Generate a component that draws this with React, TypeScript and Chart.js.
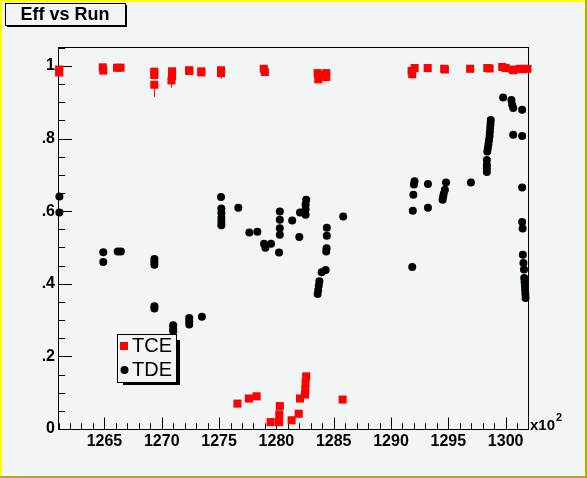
import React, { useEffect, useRef } from "react";
import { Chart, registerables } from "chart.js";

Chart.register(...registerables);

// ---- data (run numbers shown in units of x10^2) ----
const tceRun = [
  1261.05, 1261.05, 1264.86, 1264.9, 1266.1, 1266.4, 1269.35, 1269.35, 1269.35,
  1270.9, 1270.9, 1270.85, 1272.4, 1272.4, 1273.45, 1273.45, 1275.17, 1275.17,
  1278.9, 1279.0, 1283.6, 1283.65, 1283.9, 1284.35, 1284.35, 1291.8, 1291.85,
  1292.06, 1293.2, 1294.64, 1294.7, 1296.9, 1298.4, 1298.6, 1299.7, 1300.0,
  1300.6, 1300.7, 1301.24, 1301.5, 1301.9,
  1276.6, 1277.6, 1278.28, 1279.5, 1280.23, 1280.25, 1280.3, 1281.33, 1281.95,
  1282.06, 1282.5, 1282.52, 1282.55, 1282.6, 1285.78,
];
const tceEff = [
  0.99, 0.982, 0.996, 0.987, 0.995, 0.995, 0.984, 0.975, 0.948,
  0.985, 0.972, 0.96, 0.988, 0.986, 0.985, 0.982, 0.988, 0.98,
  0.992, 0.983, 0.98, 0.963, 0.975, 0.98, 0.969, 0.986, 0.977,
  0.994, 0.994, 0.992, 0.99, 0.992, 0.994, 0.993, 0.997, 0.994,
  0.99, 0.988, 0.992, 0.991, 0.992,
  0.07, 0.084, 0.09, 0.019, 0.019, 0.04, 0.063, 0.024, 0.042,
  0.084, 0.095, 0.109, 0.127, 0.145, 0.081,
];
const tceErrLo = [
  0, 0, 0.008, 0, 0, 0, 0, 0, 0.033,
  0, 0, 0.02, 0, 0, 0, 0, 0, 0.015,
  0, 0, 0, 0, 0, 0, 0, 0, 0,
  0, 0, 0, 0, 0, 0, 0, 0, 0,
  0, 0, 0, 0, 0,
  0, 0, 0, 0, 0, 0, 0, 0, 0,
  0, 0, 0, 0, 0, 0,
];

const tdeRun = [
  1261.07, 1261.07, 1264.9, 1264.9, 1266.16, 1266.43,
  1269.36, 1269.36, 1269.36, 1269.36, 1269.36,
  1271.0, 1271.0, 1271.0, 1272.4, 1272.4, 1272.4, 1273.5,
  1275.17, 1275.2, 1275.2, 1275.2, 1275.2, 1275.2, 1276.68,
  1277.64, 1278.34, 1278.92, 1279.04, 1279.53, 1280.23,
  1280.3, 1280.3, 1280.3, 1280.3, 1281.38, 1282.0, 1282.06,
  1282.6, 1282.55, 1282.55, 1282.55,
  1283.75, 1283.7, 1283.65, 1283.6, 1283.95, 1284.3,
  1284.4, 1284.4, 1284.38, 1284.35, 1285.83,
  1291.85, 1292.05, 1292.0, 1291.95, 1291.9, 1293.22, 1293.22,
  1294.8, 1294.7, 1294.6, 1294.55, 1294.5, 1296.97,
  1298.36, 1298.36, 1298.36, 1298.36, 1298.4, 1298.45, 1298.5, 1298.55,
  1298.6, 1298.62, 1298.65, 1298.68, 1298.7,
  1299.78, 1300.5, 1300.57, 1300.66, 1300.66,
  1301.44, 1301.44, 1301.44, 1301.44, 1301.48,
  1301.5, 1301.55, 1301.6, 1301.62, 1301.65, 1301.68, 1301.7, 1301.72, 1301.74,
];
const tdeEff = [
  0.64, 0.596, 0.487, 0.46, 0.489, 0.489,
  0.468, 0.46, 0.452, 0.338, 0.332,
  0.286, 0.276, 0.269, 0.306, 0.297, 0.288, 0.309,
  0.639, 0.607, 0.595, 0.581, 0.57, 0.561, 0.609,
  0.541, 0.543, 0.51, 0.499, 0.51, 0.486,
  0.599, 0.576, 0.553, 0.535, 0.574, 0.529, 0.596,
  0.631, 0.618, 0.605, 0.59,
  0.407, 0.395, 0.383, 0.372, 0.432, 0.438,
  0.554, 0.532, 0.498, 0.489, 0.585,
  0.446, 0.682, 0.673, 0.645, 0.601, 0.675, 0.609,
  0.679, 0.659, 0.648, 0.64, 0.631, 0.679,
  0.708, 0.718, 0.728, 0.741, 0.764, 0.774, 0.785, 0.796,
  0.807, 0.818, 0.829, 0.84, 0.851,
  0.913, 0.906, 0.893, 0.884, 0.81,
  0.879, 0.807, 0.665, 0.57, 0.552,
  0.48, 0.457, 0.439, 0.416, 0.405, 0.394, 0.383, 0.372, 0.361,
];

const xTicks = [1265, 1270, 1275, 1280, 1285, 1290, 1295, 1300];
const yTicks = [0, 0.2, 0.4, 0.6, 0.8, 1];
const yTickLabels = ["0", ".2", ".4", ".6", ".8", "1"];
const xMin = 1260.95;
const xMax = 1301.95;
const yMin = 0;
const yMax = 1.052;
const titleText = "Eff vs Run";
const legendLabels = ["TCE", "TDE"];
const xExpBase = "x10";
const xExpPow = "2";

const BG = "#f2f5f5";
const FONT = "'Liberation Sans', Arial, Helvetica, sans-serif";

const rootPlugin = {
  id: "rootDecor",
  beforeDraw(chart: any) {
    const ctx = chart.ctx;
    const W = chart.width;
    const H = chart.height;
    ctx.save();
    ctx.fillStyle = BG;
    ctx.fillRect(0, 0, W, H);
    ctx.fillStyle = "#b0b000";
    ctx.fillRect(W - 2, 0, 2, H);
    ctx.fillRect(0, H - 2, W, 2);
    ctx.fillStyle = "#ffff00";
    ctx.fillRect(0, 0, 2, H - 2);
    ctx.fillRect(0, 0, W - 2, 2);
    ctx.restore();
  },
  beforeDatasetsDraw(chart: any) {
    const ctx = chart.ctx;
    const { left, right, top, bottom } = chart.chartArea;
    const xs = chart.scales.x;
    const ys = chart.scales.y;
    ctx.save();
    ctx.strokeStyle = "#000";
    ctx.lineWidth = 1;
    ctx.strokeRect(left + 0.5, top + 0.5, right - left, bottom - top);
    ctx.beginPath();
    for (let i = 1261; i <= 1301; i++) {
      const px = Math.round(xs.getPixelForValue(i)) + 0.5;
      const len = i % 5 === 0 ? 11.5 : 5.7;
      ctx.moveTo(px, bottom);
      ctx.lineTo(px, bottom - len);
    }
    for (let j = 0; j <= 21; j++) {
      const v = j * 0.05;
      const py = Math.round(ys.getPixelForValue(v)) + 0.5;
      const len = j % 4 === 0 ? 14 : 7;
      ctx.moveTo(left, py);
      ctx.lineTo(left + len, py);
    }
    ctx.stroke();
    ctx.strokeStyle = "#ff0000";
    ctx.beginPath();
    for (let k = 0; k < tceRun.length; k++) {
      if (tceErrLo[k] > 0) {
        const px = Math.round(xs.getPixelForValue(tceRun[k])) + 0.5;
        ctx.moveTo(px, ys.getPixelForValue(tceEff[k]));
        ctx.lineTo(px, ys.getPixelForValue(tceEff[k] - tceErrLo[k]));
      }
    }
    ctx.stroke();
    ctx.restore();
  },
  afterDraw(chart: any) {
    const ctx = chart.ctx;
    const { right, bottom } = chart.chartArea;
    ctx.save();
    // title box
    ctx.fillStyle = "#000";
    ctx.fillRect(7, 5, 120, 22);
    ctx.fillStyle = BG;
    ctx.fillRect(5, 3, 120, 22);
    ctx.strokeStyle = "#000";
    ctx.lineWidth = 1;
    ctx.strokeRect(5.5, 3.5, 120, 22);
    ctx.fillStyle = "#000";
    ctx.font = `bold 18px ${FONT}`;
    ctx.textAlign = "center";
    ctx.textBaseline = "middle";
    ctx.fillText(titleText, 65, 15);

    // legend box
    ctx.fillStyle = "#000";
    ctx.fillRect(123, 340, 57, 45);
    ctx.fillStyle = BG;
    ctx.fillRect(117, 334, 60, 48);
    ctx.strokeRect(117.5, 334.5, 59, 48);
    ctx.fillStyle = "#ff0000";
    ctx.fillRect(120, 342, 8, 8);
    ctx.fillStyle = "#000";
    ctx.beginPath();
    ctx.arc(124.5, 370, 4, 0, Math.PI * 2);
    ctx.fill();
    ctx.font = `20px ${FONT}`;
    ctx.textAlign = "left";
    ctx.textBaseline = "middle";
    ctx.fillText(legendLabels[0], 132, 346);
    ctx.fillText(legendLabels[1], 132, 370);

    // x10^2
    ctx.font = `bold 15px ${FONT}`;
    ctx.textBaseline = "alphabetic";
    ctx.fillText(xExpBase, right + 2, bottom + 1);
    const w = ctx.measureText(xExpBase).width;
    ctx.font = `bold 11px ${FONT}`;
    ctx.fillText(xExpPow, right + 2 + w + 1, bottom - 8);
    ctx.restore();
  },
};

export default function App() {
  const ref = useRef<HTMLCanvasElement>(null);
  useEffect(() => {
    if (!ref.current) return;
    const chart = new Chart(ref.current, {
      type: "scatter",
      data: {
        datasets: [
          {
            label: legendLabels[0],
            data: tceRun.map((x, i) => ({ x, y: tceEff[i] })),
            pointStyle: "rect",
            pointRadius: 5.7,
            backgroundColor: "#ff0000",
            borderWidth: 0,
            clip: false,
          },
          {
            label: legendLabels[1],
            data: tdeRun.map((x, i) => ({ x, y: tdeEff[i] })),
            pointStyle: "circle",
            pointRadius: 4,
            backgroundColor: "#000000",
            borderWidth: 0,
            clip: false,
          },
        ],
      } as any,
      options: {
        animation: false,
        responsive: false,
        devicePixelRatio: 1,
        events: [],
        layout: { padding: { top: 47, right: 59, left: 0, bottom: 0 } },
        plugins: { legend: { display: false }, tooltip: { enabled: false }, title: { display: false } },
        scales: {
          x: {
            type: "linear",
            min: xMin,
            max: xMax,
            afterBuildTicks: (s: any) => {
              s.ticks = xTicks.map((v) => ({ value: v }));
            },
            afterFit: (s: any) => {
              s.height = 49;
            },
            grid: { display: false, drawTicks: false },
            border: { display: false },
            ticks: {
              color: "#000",
              padding: 3,
              maxRotation: 0,
              autoSkip: false,
              font: { family: FONT, size: 16, weight: "bold" },
              callback: (v: any) => String(v),
            },
          },
          y: {
            type: "linear",
            min: yMin,
            max: yMax,
            afterBuildTicks: (s: any) => {
              s.ticks = yTicks.map((v) => ({ value: v }));
            },
            afterFit: (s: any) => {
              s.width = 58;
            },
            grid: { display: false, drawTicks: false },
            border: { display: false },
            ticks: {
              color: "#000",
              padding: 3,
              autoSkip: false,
              font: { family: FONT, size: 16, weight: "bold" },
              callback: (v: any) => {
                const idx = yTicks.findIndex((t) => Math.abs(t - v) < 1e-9);
                return idx >= 0 ? yTickLabels[idx] : "";
              },
            },
          },
        },
      } as any,
      plugins: [rootPlugin],
    });
    return () => chart.destroy();
  }, []);
  return (
    <div style={{ position: "fixed", left: 0, top: 0, width: 587, height: 478 }}>
      <canvas ref={ref} width={587} height={478} style={{ display: "block" }} />
    </div>
  );
}
